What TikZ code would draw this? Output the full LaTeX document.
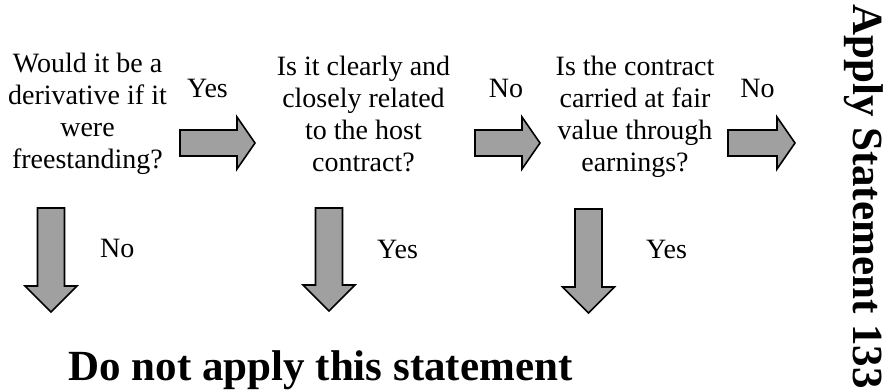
\documentclass[tikz,border=0pt]{standalone}
\usepackage{fontspec}
\setmainfont{Liberation Serif}
\definecolor{arrowgray}{RGB}{160,160,160}
\tikzset{
  blockarrow/.style={draw=black, fill=arrowgray, line width=1.6pt, line join=miter},
  question/.style={align=center, font=\fontsize{28}{32}\selectfont, inner sep=0pt, anchor=base},
  answer/.style={font=\fontsize{28}{32}\selectfont, inner sep=0pt, anchor=base},
  verdict/.style={font=\fontsize{43}{48}\selectfont\bfseries, inner sep=0pt, anchor=base}
}
% block arrow pointing right: left x, centre y, tip x
\newcommand\rblock[3]{%
  \draw[blockarrow] (#1,{#2-13}) -- ({#3-18},{#2-13}) -- ({#3-18},{#2-26}) -- (#3,#2)
    -- ({#3-18},{#2+26}) -- ({#3-18},{#2+13}) -- (#1,{#2+13}) -- cycle;}
% block arrow pointing down: centre x, top y, head-base y, tip y
\newcommand\dblock[4]{%
  \draw[blockarrow] ({#1-13.5},#2) -- ({#1+13.5},#2) -- ({#1+13.5},#3) -- ({#1+26},#3)
    -- (#1,#4) -- ({#1-26},#3) -- ({#1-13.5},#3) -- cycle;}
\begin{document}
\begin{tikzpicture}[x=1pt,y=-1pt]
  \useasboundingbox (0,0) rectangle (887,391);

  % questions (placed by the baseline of their last line)
  \node[question] (q1) at (87.5,168) {Would it be a\\derivative if it\\were\\freestanding?};
  \node[question] (q2) at (363.5,171) {Is it clearly and\\closely related\\to the host\\contract?};
  \node[question] (q3) at (635,171) {Is the contract\\carried at fair\\value through\\earnings?};

  % horizontal answers
  \node[answer] (y1) at (207.5,97) {Yes};
  \node[answer] (n2) at (506,97) {No};
  \node[answer] (n3) at (757.5,97) {No};

  % vertical answers
  \node[answer, anchor=base west] (n1) at (100,257) {No};
  \node[answer, anchor=base west] (y2) at (377,258) {Yes};
  \node[answer, anchor=base west] (y3) at (646,258) {Yes};

  % outcomes
  \node[verdict] (skip) at (320.5,380) {Do not apply this statement};
  \node[verdict, rotate=-90] (apply) at (853,196.5) {Apply Statement 133};

  % block arrows
  \rblock{180}{143}{255}
  \rblock{475}{143}{540}
  \rblock{728}{143}{795}
  \dblock{51}{208}{286}{312}
  \dblock{329}{208}{285}{311}
  \dblock{588.5}{209}{287}{313}
\end{tikzpicture}
\end{document}
